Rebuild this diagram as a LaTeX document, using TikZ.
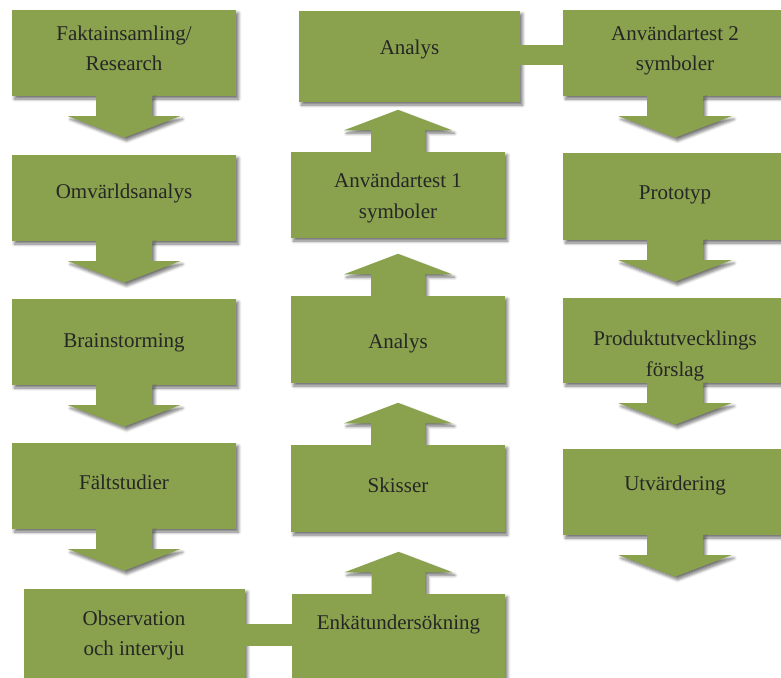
\documentclass[tikz,border=0pt]{standalone}
\usepackage{fontspec}
\setmainfont{Liberation Serif}
\usetikzlibrary{calc,shadows.blur}
\definecolor{boxgreen}{RGB}{138,162,77}
\definecolor{txtgray}{RGB}{38,38,38}
\tikzset{
  shad/.style={blur shadow={shadow xshift=2.5pt,shadow yshift=-3pt,shadow blur steps=6,shadow opacity=55,shadow blur radius=3pt}},
  box/.style={rectangle, fill=boxgreen, inner sep=0pt, shad},
  lbl/.style={text=txtgray, font=\fontsize{21}{30.5}\selectfont, align=center, inner sep=0pt},
  blockarrow/.style={fill=boxgreen, shad},
  link/.style={fill=boxgreen},
  repaint/.style={fill=boxgreen},
}
\newcommand\blkdown[3]{%
  \fill[blockarrow] ($(#1.south)+(-#2,-1)$) -- ($(#1.south)+(-#2,20)$) -- ($(#1.south)+(-#3,20)$)
    -- ($(#1.south)+(0,41.5)$) -- ($(#1.south)+(#3,20)$) -- ($(#1.south)+(#2,20)$)
    -- ($(#1.south)+(#2,-1)$) -- cycle;}
\newcommand\blkup[3]{%
  \fill[blockarrow] ($(#1.north)+(-#2,1)$) -- ($(#1.north)+(-#2,-21.5)$) -- ($(#1.north)+(-#3,-21.5)$)
    -- ($(#1.north)+(0,-42)$) -- ($(#1.north)+(#3,-21.5)$) -- ($(#1.north)+(#2,-21.5)$)
    -- ($(#1.north)+(#2,1)$) -- cycle;
  \fill[repaint] (#1.north west) rectangle (#1.south east);}
\begin{document}
\begin{tikzpicture}[x=1pt,y=-1pt]
\useasboundingbox (0,0) rectangle (781,677);
\clip (0,0) rectangle (781,677);

% column 1
\node[box, minimum width=224pt, minimum height=86pt] (b1) at (124,53) {};
\node[box, minimum width=224pt, minimum height=86pt] (b2) at (124,198) {};
\node[box, minimum width=224pt, minimum height=86pt] (b3) at (124,342) {};
\node[box, minimum width=224pt, minimum height=86pt] (b4) at (124,486) {};
\node[box, minimum width=221pt, minimum height=92pt] (b5) at (134.5,635) {};

% column 2
\node[box, minimum width=221pt, minimum height=91pt] (a0) at (409.5,56.5) {};
\node[box, minimum width=214pt, minimum height=86pt] (a1) at (398,195) {};
\node[box, minimum width=214pt, minimum height=87pt] (a2) at (398,339.5) {};
\node[box, minimum width=214pt, minimum height=87pt] (a3) at (398,488.5) {};
\node[box, minimum width=213pt, minimum height=90pt] (a4) at (398.5,639) {};

% column 3
\node[box, minimum width=224pt, minimum height=86pt] (c1) at (675,53) {};
\node[box, minimum width=224pt, minimum height=87pt] (c2) at (675,196.5) {};
\node[box, minimum width=224pt, minimum height=85pt] (c3) at (675,340.5) {};
\node[box, minimum width=224pt, minimum height=86pt] (c4) at (675,492) {};

% horizontal links
\fill[link] ($(a0.east)+(-2,-11.5)$) rectangle ($(c1.west)+(2,11.5)$);
\fill[link] ($(b5.east)+(-2,-11.5)$) rectangle ($(a4.west)+(2,7)$);

% up arrows (box repainted over the arrow's shadow)
\blkup{a1}{27}{54}
\blkup{a2}{27}{54}
\blkup{a3}{27}{54}
\blkup{a4}{27}{54}

% down arrows
\blkdown{b1}{28}{56}
\blkdown{b2}{28}{56}
\blkdown{b3}{28}{56}
\blkdown{b4}{28}{56}
\blkdown{c1}{28}{56.5}
\blkdown{c2}{28}{56.5}
\blkdown{c3}{28}{56.5}
\blkdown{c4}{28}{56.5}

% labels
\node[lbl] (tb1) at (124,48.5) {Faktainsamling/\\Research};
\node[lbl, anchor=base] (tb2) at (124,198) {Omvärldsanalys};
\node[lbl, anchor=base] (tb3) at (124,347) {Brainstorming};
\node[lbl, anchor=base] (tb4) at (124,489) {Fältstudier};
\node[lbl] (tb5) at (134,635.5) {Observation\\och intervju};

\node[lbl, anchor=base] (ta0) at (409.5,55) {Analys};
\node[lbl] (ta1) at (398,198) {Användartest 1\\symboler};
\node[lbl, anchor=base] (ta2) at (398,348) {Analys};
\node[lbl, anchor=base] (ta3) at (398,492) {Skisser};
\node[lbl, anchor=base] (ta4) at (398.5,629) {Enkätundersökning};

\node[lbl] (tc1) at (675,50.5) {Användartest 2\\symboler};
\node[lbl, anchor=base] (tc2) at (675,199) {Prototyp};
\node[lbl] (tc3) at (675,356) {Produktutvecklings\\förslag};
\node[lbl, anchor=base] (tc4) at (675,490) {Utvärdering};
\end{tikzpicture}
\end{document}
